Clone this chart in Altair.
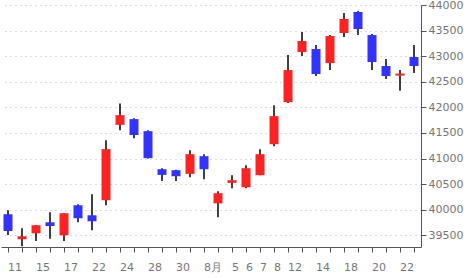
import altair as alt
import pandas as pd

dates = ["07-11", "07-14", "07-15", "07-16", "07-17", "07-18", "07-22", "07-23",
         "07-24", "07-25", "07-28", "07-29", "07-30", "07-31", "08-01", "08-04",
         "08-05", "08-06", "08-07", "08-08", "08-12", "08-13", "08-14", "08-15",
         "08-18", "08-19", "08-20", "08-21", "08-22", "08-25"]
open_ = [39911, 39422, 39539, 39754, 39500, 40087, 39891, 40185, 41658, 41770,
         41535, 40791, 40772, 40700, 41046, 40124, 40524, 40439, 40674, 41280,
         42102, 43080, 43139, 42865, 43452, 43863, 43413, 42807, 42620, 42983]
high = [39989, 39637, 39700, 39950, 39930, 40107, 40302, 41359, 42077, 41789,
        41554, 40811, 40780, 41163, 41085, 40361, 40674, 40870, 41183, 42043,
        43022, 43472, 43217, 43413, 43843, 43883, 43433, 42944, 42728, 43217]
low = [39506, 39285, 39389, 39433, 39389, 39755, 39598, 40087, 41554, 41398,
       41000, 40563, 40563, 40635, 40596, 39852, 40420, 40420, 40674, 41241,
       42083, 43002, 42611, 42728, 43374, 43413, 42728, 42552, 42323, 42670]
close = [39584, 39480, 39696, 39680, 39930, 39833, 39774, 41183, 41848, 41460,
         41007, 40680, 40654, 41085, 40791, 40322, 40576, 40811, 41085, 41828,
         42728, 43296, 42650, 43393, 43726, 43530, 42885, 42611, 42660, 42807]

label_dates = ["07-11", "07-15", "07-17", "07-22", "07-24", "07-28", "07-30", "08-01",
               "08-05", "08-06", "08-07", "08-08", "08-12", "08-14", "08-18", "08-20", "08-22"]
label_texts = ["11", "15", "17", "22", "24", "28", "30", "8月",
               "5", "6", "7", "8", "12", "14", "18", "20", "22"]
y_ticks = [39500, 40000, 40500, 41000, 41500, 42000, 42500, 43000, 43500, 44000]

df = pd.DataFrame({"date": dates, "open": open_, "high": high, "low": low, "close": close})

mapping = "{" + ",".join(f"'{d}':'{t}'" for d, t in zip(label_dates, label_texts)) + "}"
label_expr = f"({mapping})[datum.value] || ''"

FONT = "DejaVu Sans"
GREY = "#777777"

xscale = alt.Scale(domain=dates, paddingInner=0, paddingOuter=0)
yscale = alt.Scale(domain=[39271, 44000], nice=False, zero=False)

x_axis = alt.Axis(title=None, labelAngle=0, labelExpr=label_expr,
                  labelAlign="left", labelBaseline="top", labelPadding=9,
                  labelFont=FONT, labelFontSize=11, labelColor=GREY,
                  labelOverlap=False,
                  tickSize=5, tickColor="#555555", domainColor="#555555",
                  grid=False)
y_axis = alt.Axis(title=None, orient="right", values=y_ticks, format="d",
                  labelFont=FONT, labelFontSize=11, labelColor=GREY,
                  labelOverlap=False, labelFlush=False, labelBound=False,
                  labelPadding=2, tickSize=5, tickColor="#555555",
                  domainColor="#555555",
                  grid=True, gridColor="#bbbbbb", gridDash=[1, 4])

wick = alt.Chart(df).mark_rule(color="black", strokeWidth=1.5).encode(
    x=alt.X("date:O", scale=xscale, axis=x_axis),
    y=alt.Y("low:Q", scale=yscale, axis=y_axis),
    y2="high:Q",
)

body = alt.Chart(df).mark_bar(size=9).encode(
    x=alt.X("date:O", scale=xscale, axis=x_axis),
    y=alt.Y("open:Q", scale=yscale, axis=y_axis),
    y2="close:Q",
    color=alt.condition("datum.close >= datum.open", alt.value("#ff2222"), alt.value("#3333ff")),
)

chart = alt.layer(wick, body).properties(
    width=420, height=242,
    autosize=alt.AutoSizeParams(type="none"),
    padding={"left": 1, "top": 5, "right": 49, "bottom": 31},
).configure_view(stroke=None)

chart.save("out.html", embed_options={"renderer": "svg", "actions": False})
